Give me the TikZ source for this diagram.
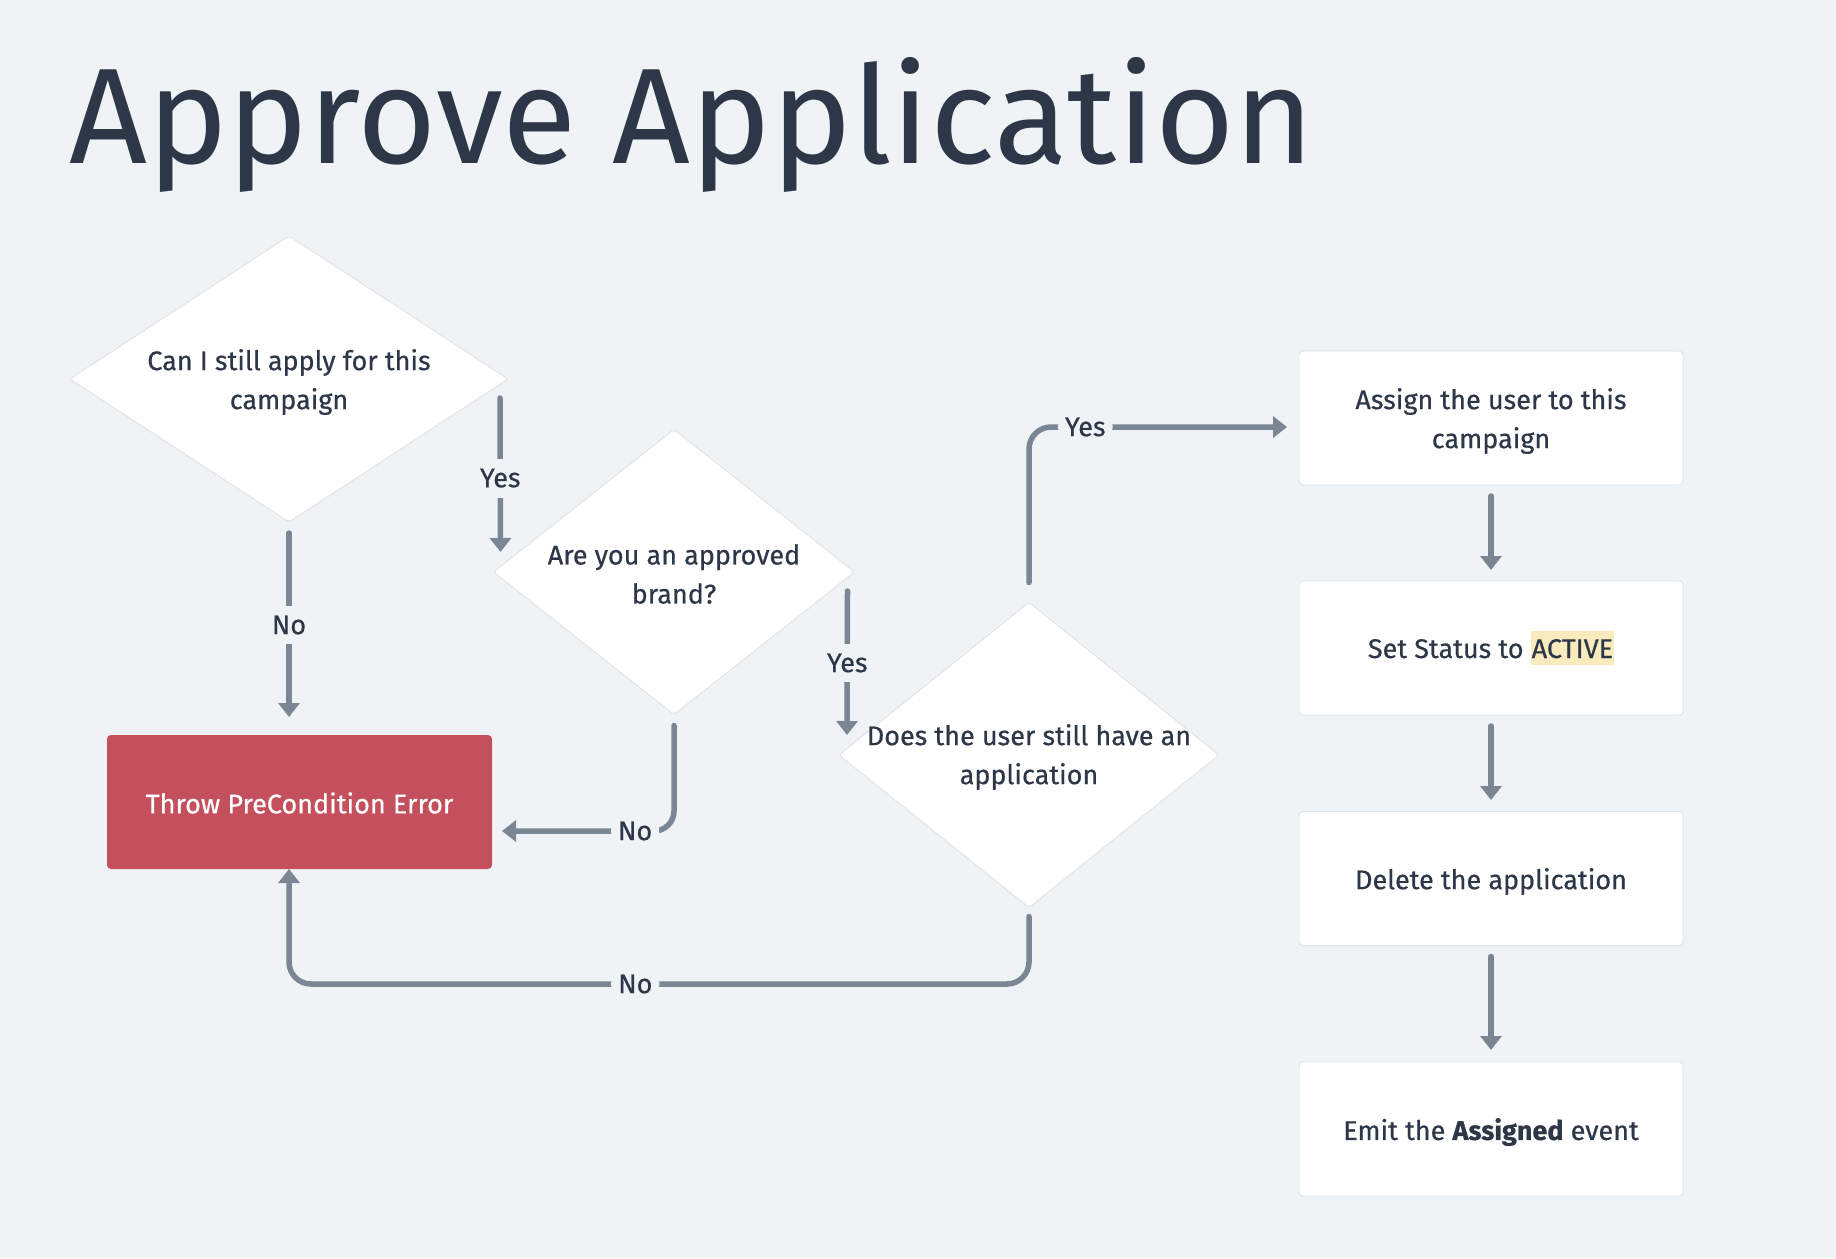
\documentclass[tikz,border=0pt]{standalone}
\usepackage{fontspec}
\setmainfont{Fira Sans}
\newfontfamily\bodyface{Fira Sans}[FakeBold=0.5]
\usetikzlibrary{shapes.geometric,arrows.meta,calc}
\definecolor{bg}{HTML}{F0F3F6}
\definecolor{ink}{HTML}{2D3748}
\definecolor{wire}{HTML}{7A8693}
\definecolor{errred}{HTML}{C4505E}
\definecolor{hl}{HTML}{FAEBBE}
\definecolor{edge}{HTML}{DDE1E6}
\newcommand\bodyfont{\bodyface\fontsize{27}{39}\selectfont}
\newcommand\hlword[1]{{\setlength{\fboxsep}{0pt}\colorbox{hl}{\rule[-7pt]{0pt}{34pt}\kern1pt#1\kern1pt}}}
\begin{document}
\begin{tikzpicture}[x=1pt,y=-1pt,
  dia/.style={diamond, draw=edge, line width=0.8pt, fill=white, inner sep=0pt, outer sep=0pt, rounded corners=3pt},
  txt/.style={align=center, font=\bodyfont, text=ink, inner sep=0pt},
  box/.style={rectangle, draw=edge, line width=0.8pt, fill=white, rounded corners=4pt, minimum width=384pt, minimum height=134pt, inner sep=0pt, outer sep=0pt},
  errbox/.style={rectangle, fill=errred, rounded corners=4pt, minimum width=385pt, minimum height=134pt, inner sep=0pt, outer sep=0pt},
  arr/.style={draw=wire, line width=5.5pt, line cap=round, -{Triangle[width=21pt,length=14pt]}},
  lbl/.style={fill=bg, text=ink, font=\bodyfont, inner xsep=7pt, inner ysep=10pt}
]
\fill[bg] (0,0) rectangle (1836,1258);
\useasboundingbox (0,0) rectangle (1836,1258);

\node[anchor=base west, inner sep=0pt, font=\fontsize{136}{150}\selectfont, text=ink] (title) at (69,163) {Approve Application};

% decisions
\node[dia, minimum width=438pt, minimum height=286pt] (d1) at (289,379) {};
\node[txt] (t1) at ($(d1.center)+(0,3)$) {Can I still apply for this\\campaign};
\node[dia, minimum width=361pt, minimum height=285pt] (d2) at (674,572) {};
\node[txt] (t2) at ($(d2.center)+(0,2)$) {Are you an approved\\brand?};
\node[dia, minimum width=380pt, minimum height=305pt] (d3) at (1029,755) {};
\node[txt] (t3) at ($(d3.center)+(0,2)$) {Does the user still have an\\application};

% error box
\node[errbox] (rb) at (299.5,802) {};
\node[txt, text=white] (rbt) at ($(rb.center)+(0,1)$) {Throw PreCondition Error};

% right column
\node[box] (b1) at (1491,418) {};
\node[txt] (b1t) at ($(b1.center)+(0,3)$) {Assign the user to this\\campaign};
\node[box] (b2) at (1491,648) {};
\node[txt] (b2t) at ($(b2.center)+(0,0)$) {Set Status to \hlword{ACTIVE}};
\node[box] (b3) at (1491,878.5) {};
\node[txt] (b3t) at ($(b3.center)+(0,3)$) {Delete the application};
\node[box] (b4) at (1491,1129) {};
\node[txt] (b4t) at ($(b4.center)+(0,3)$) {Emit the \textbf{Assigned} event};

% connectors
\draw[arr] ($(d1.east)+(-8,19)$) -- ($(d2.west)+(7,-20)$) node[lbl, pos=0.52] {Yes};
\draw[arr] ($(d1.south)+(0,11)$) -- ($(d1.south |- rb.north)+(0,-18)$) node[lbl, midway] {No};
\draw[arr, rounded corners=20pt] ($(d2.south)+(0,11)$) |- ($(rb.east)+(10,29)$) node[lbl, pos=0.613] {No};
\draw[arr] ($(d2.east)+(-7,19)$) -- ($(d3.west)+(8,-20)$) node[lbl, midway] {Yes};
\draw[arr, rounded corners=22pt] ($(d3.north)+(0,-20)$) |- ($(b1.west)+(-12,9)$) node[lbl, pos=0.609] {Yes};
\draw[arr, rounded corners=22pt] ($(d3.south)+(0,9)$) |- ($(d1.south |- rb.south)+(0,115)$) node[lbl, pos=0.766] {No} -- (d1.south |- rb.south);

\draw[arr] ($(b1.south)+(0,11)$) -- ($(b2.north)+(0,-11)$);
\draw[arr] ($(b2.south)+(0,11)$) -- ($(b3.north)+(0,-11.5)$);
\draw[arr] ($(b3.south)+(0,11)$) -- ($(b4.north)+(0,-12)$);
\end{tikzpicture}
\end{document}
